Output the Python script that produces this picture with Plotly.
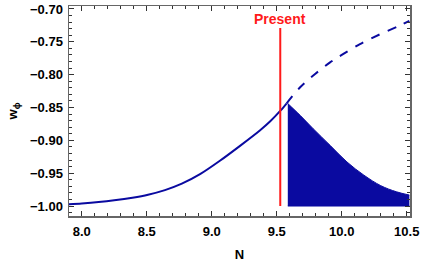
import plotly.graph_objects as go

# Solid part of w_phi(N)
solid_N = [7.90, 8.00, 8.13, 8.25, 8.39, 8.51, 8.64, 8.77, 8.91, 9.06, 9.22, 9.37, 9.45, 9.53, 9.575]
solid_w = [-0.9975, -0.9962, -0.9940, -0.9913, -0.9873, -0.9828, -0.9758, -0.9660, -0.9515,
           -0.9315, -0.9080, -0.8850, -0.8710, -0.8545, -0.8440]

# Dashed continuation
dash_N = [9.575, 9.68, 9.795, 9.91, 10.00, 10.14, 10.30, 10.45, 10.52]
dash_w = [-0.8440, -0.8193, -0.799, -0.7814, -0.770, -0.7535, -0.738, -0.725, -0.718]

# Oscillating band: upper envelope and floor
osc_N = [9.585, 9.68, 9.78, 9.91, 10.04, 10.17, 10.30, 10.42, 10.52]
osc_top = [-0.8440, -0.862, -0.8823, -0.9076, -0.9329, -0.953, -0.9690, -0.9783, -0.9833]
osc_floor = -1.0

present_N = 9.527
present_range = [-1.0, -0.729]

blue = "#0a0aa0"
red = "#ff1a1a"
font_family = "Liberation Sans"

fig = go.Figure()
fig.add_trace(go.Scatter(x=solid_N, y=solid_w, mode="lines",
                         line=dict(color=blue, width=2, shape="spline", smoothing=0.8),
                         hoverinfo="skip"))
fig.add_trace(go.Scatter(x=dash_N, y=dash_w, mode="lines",
                         line=dict(color=blue, width=2, dash="dash", shape="spline", smoothing=1),
                         hoverinfo="skip"))
# floor line then envelope filled to it
fig.add_trace(go.Scatter(x=osc_N, y=[osc_floor] * len(osc_N), mode="lines",
                         line=dict(color=blue, width=1), hoverinfo="skip"))
fig.add_trace(go.Scatter(x=osc_N, y=osc_top, mode="lines", fill="tonexty",
                         fillcolor=blue,
                         line=dict(color=blue, width=1, shape="spline", smoothing=1),
                         hoverinfo="skip"))
fig.add_trace(go.Scatter(x=[present_N, present_N], y=present_range, mode="lines",
                         line=dict(color=red, width=2), hoverinfo="skip"))

fig.add_annotation(x=present_N, y=-0.716, text="<b>Present</b>", showarrow=False,
                   font=dict(color=red, size=14, family=font_family),
                   xanchor="center", yanchor="middle")

axis_common = dict(
    showgrid=False, zeroline=False, showline=True, mirror="allticks",
    linecolor="#666666", linewidth=1.5, automargin=False,
    ticks="inside", ticklen=5, tickwidth=1, tickcolor="#333333",
    tickfont=dict(family=font_family, size=13, color="black", weight="bold"),
)

fig.update_xaxes(range=[7.902, 10.525], tick0=8.0, dtick=0.5, tickformat=".1f",
                 minor=dict(dtick=0.1, ticks="inside", ticklen=3, tickcolor="#333333"),
                 ticklabelstandoff=3,
                 title=dict(text="<b>N</b>", font=dict(family=font_family, size=13, color="black"),
                            standoff=12),
                 **axis_common)
fig.update_yaxes(range=[-1.0152, -0.6955], tick0=-1.0, dtick=0.05, tickformat=".2f",
                 minor=dict(dtick=0.01, ticks="inside", ticklen=3, tickcolor="#333333"),
                 ticklabelstandoff=2,
                 title=dict(text="<b>w<sub>ϕ</sub></b>",
                            font=dict(family=font_family, size=13, color="black"), standoff=9),
                 **axis_common)

fig.update_layout(width=421, height=265, margin=dict(l=69, r=11, t=6, b=49),
                  plot_bgcolor="white", paper_bgcolor="white", showlegend=False)

fig.write_html("out.html", config={"displayModeBar": False, "staticPlot": True},
               post_script="document.body.style.margin='0';document.body.style.overflow='hidden';")
